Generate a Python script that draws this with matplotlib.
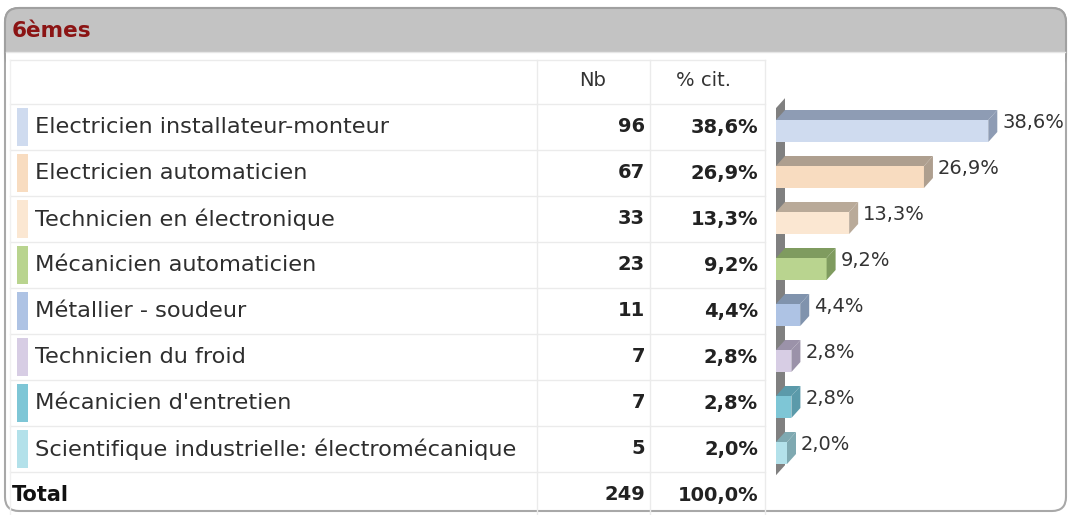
import matplotlib.pyplot as plt
from matplotlib.patches import Rectangle, Polygon, FancyBboxPatch

# données du tableau
title = "6èmes"
categories = [
    "Electricien installateur-monteur",
    "Electricien automaticien",
    "Technicien en électronique",
    "Mécanicien automaticien",
    "Métallier - soudeur",
    "Technicien du froid",
    "Mécanicien d'entretien",
    "Scientifique industrielle: électromécanique",
]
counts = [96, 67, 33, 23, 11, 7, 7, 5]
percents = [38.6, 26.9, 13.3, 9.2, 4.4, 2.8, 2.8, 2.0]
total_count = 249
total_pct = 100.0
col_headers = ["Nb", "% cit."]

front_colors = ["#cfdbef", "#f8dcc0", "#fbe7d2", "#b9d48f", "#aec3e4",
                "#d7cde4", "#7ec6d6", "#b3e1ea"]
shade_colors = ["#8e9cb4", "#ae9f8f", "#b9aa99", "#7f9b5f", "#8093ad",
                "#9b92a9", "#5b9aaa", "#7fa9b1"]

def fr(v):
    return f"{v:.1f}".replace(".", ",") + "%"

W, H = 1068, 515
fig = plt.figure(figsize=(W / 100, H / 100), dpi=100)
font = "DejaVu Sans"
fs = 16.2

bg = fig.add_axes([0, 0, 1, 1])
bg.set_xlim(0, W)
bg.set_ylim(H, 0)
bg.axis("off")

# cadre + bandeau
bg.add_patch(FancyBboxPatch((5, 8), 1061, 503, boxstyle="round,pad=0,rounding_size=14",
                            fc="white", ec="#a8a8a8", lw=1.5))
bg.add_patch(FancyBboxPatch((5, 8), 1061, 60, boxstyle="round,pad=0,rounding_size=14",
                            fc="#c3c3c3", ec="#a0a0a0", lw=1.5))
bg.add_patch(Rectangle((6, 52), 1059, 30, fc="white", ec="none"))
bg.plot([6, 1065], [52, 52], color="#e6e6e6", lw=1)
bg.text(12, 31, title, color="#8b1414", fontsize=15.5, fontweight="bold",
        family=font, va="center")

# grille du tableau
row_h = 46
top = 104
n = len(categories)
for k in range(n + 2):
    y = top + (k - 1) * row_h if k > 0 else 60
    bg.plot([10, 765], [y, y], color="#ebebeb", lw=1)
for x in [537, 650, 765]:
    bg.plot([x, x], [60, 515], color="#ebebeb", lw=1)
bg.plot([10, 10], [60, 515], color="#f0f0f0", lw=1)

bg.text(593, 81, col_headers[0], fontsize=14, family=font, color="#333333",
        ha="center", va="center")
bg.text(703, 81, col_headers[1], fontsize=14, family=font, color="#333333",
        ha="center", va="center")

for i, (cat, c, p) in enumerate(zip(categories, counts, percents)):
    yc = top + row_h * (i + 0.5)
    bg.add_patch(Rectangle((17, yc - 19), 11, 38, fc=front_colors[i], ec="none"))
    bg.text(35, yc, cat, fontsize=fs, family=font, color="#2e2e2e", va="center")
    bg.text(645, yc, str(c), fontsize=14, family=font, fontweight="bold",
            color="#222222", ha="right", va="center")
    bg.text(758, yc, fr(p), fontsize=14, family=font, fontweight="bold",
            color="#222222", ha="right", va="center")

yt = top + row_h * (n + 0.5)
bg.text(12, yt, "Total", fontsize=15, family=font, fontweight="bold",
        color="#111111", va="center")
bg.text(645, yt, str(total_count), fontsize=14, family=font, fontweight="bold",
        color="#222222", ha="right", va="center")
bg.text(758, yt, fr(total_pct), fontsize=14, family=font, fontweight="bold",
        color="#222222", ha="right", va="center")

# barres 3D
px_per_unit = 5.5
ax_left, ax_w = 776, 290
ax = fig.add_axes([ax_left / W, (H - (top + n * row_h)) / H, ax_w / W, n * row_h / H])
ax.set_xlim(0, ax_w / px_per_unit)
ax.set_ylim(n - 0.5, -0.5)
ax.axis("off")

dx = 9 / px_per_unit
dy = 10 / row_h
off = 4 / row_h
bh = 22 / row_h

# paroi grise
ax.add_patch(Polygon([(0, n - 0.43), (0, -0.41), (dx, -0.41 - dy), (dx, n - 0.43 - dy)],
                     closed=True, fc="#808080", ec="none", clip_on=False, zorder=1))

ys = [i + off for i in range(n)]
ax.barh(ys, percents, height=bh, color=front_colors, edgecolor="none", zorder=3)
for i, p in enumerate(percents):
    y0 = ys[i] - bh / 2
    y1 = ys[i] + bh / 2
    ax.add_patch(Polygon([(0, y0), (p, y0), (p + dx, y0 - dy), (dx, y0 - dy)],
                         closed=True, fc=shade_colors[i], ec="none", clip_on=False, zorder=2))
    ax.add_patch(Polygon([(p, y0), (p, y1), (p + dx, y1 - dy), (p + dx, y0 - dy)],
                         closed=True, fc=shade_colors[i], ec="none", clip_on=False, zorder=3))
    ax.text(p + dx + 5 / px_per_unit, ys[i] - 9 / row_h, fr(p), fontsize=14,
            family=font, color="#333333", va="center", clip_on=False)

fig.savefig("out.png", dpi=100)
